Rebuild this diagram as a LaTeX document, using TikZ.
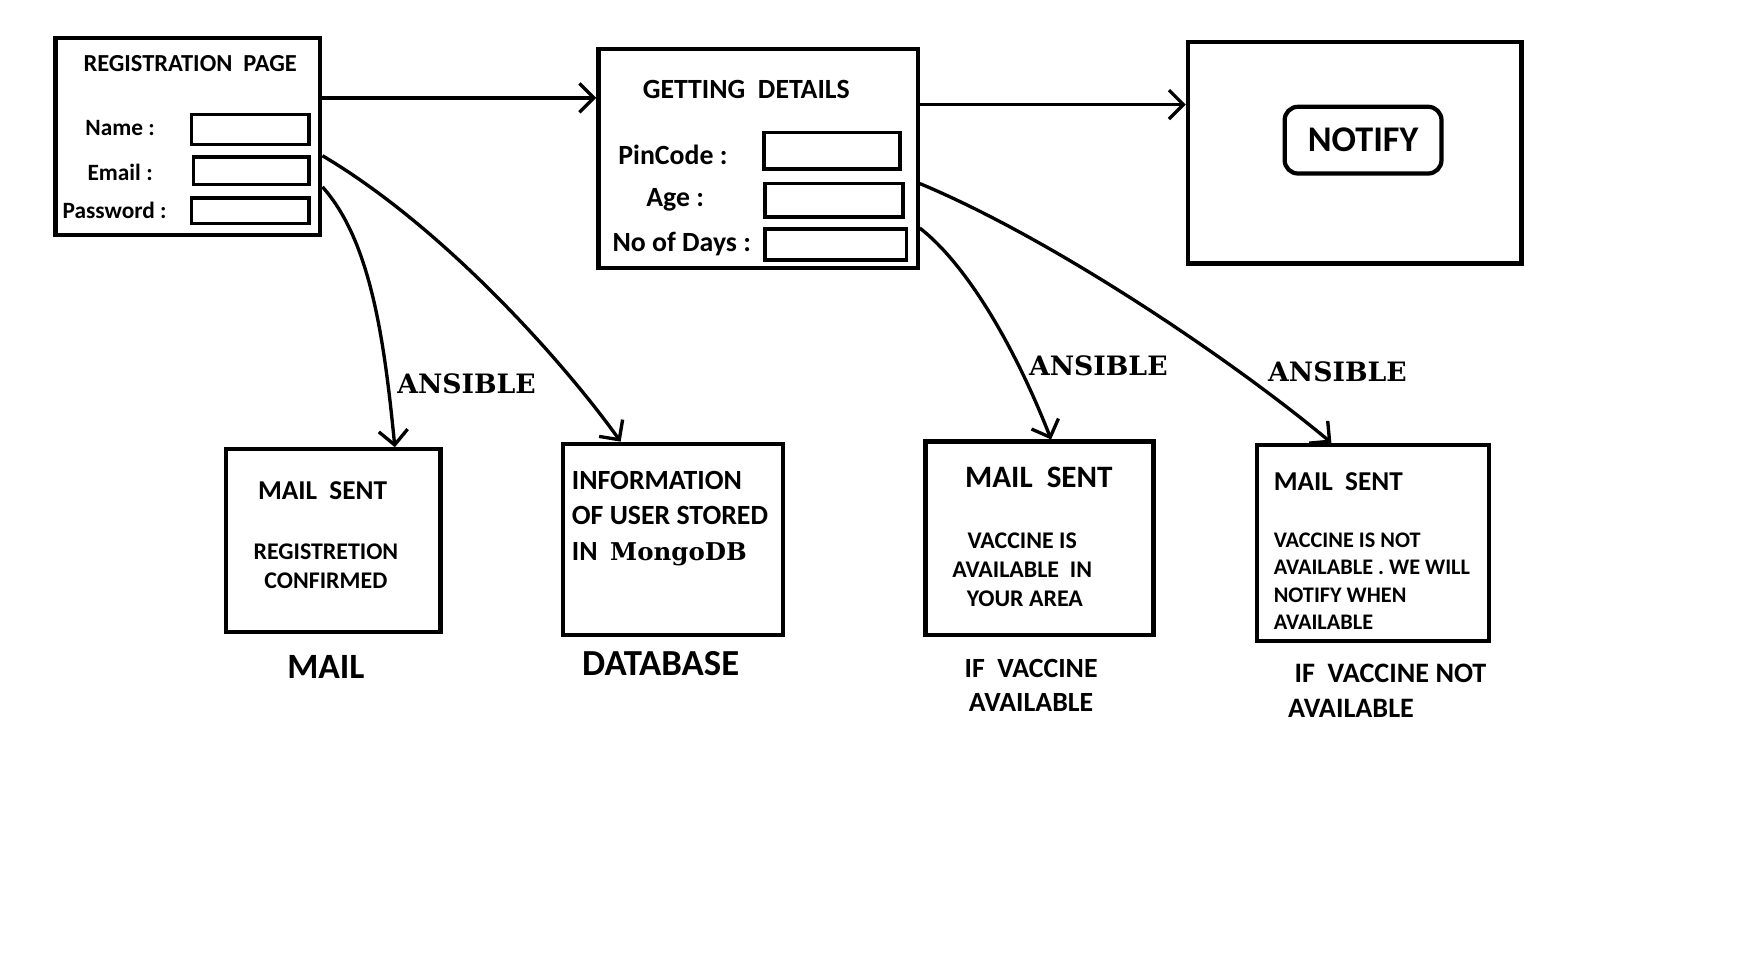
\documentclass[tikz,border=0pt]{standalone}
\usepackage{fontspec}
\setmainfont{Carlito}
\newfontfamily\heavyserif{DejaVu Serif}
\usetikzlibrary{arrows.meta}

\newcommand{\fsz}[2]{\fontsize{#1}{#2}\selectfont\bfseries}

\begin{document}
\begin{tikzpicture}[x=1pt,y=-1pt,
  box/.style={rectangle,draw,line width=3.8pt,inner sep=0pt},
  input/.style={rectangle,draw,line width=3.2pt,inner sep=0pt},
  txt/.style={inner sep=0pt,font=\fsz{22}{26}},
  arr/.style={line width=3pt,-{Straight Barb[length=13pt,width=26pt]}},
  tool/.style={inner sep=0pt,anchor=west,font=\heavyserif\fsz{24}{28}}]

\useasboundingbox (0,0) rectangle (1568,871);

\node[box,minimum width=238pt,minimum height=177pt] (reg) at (169,122.5) {};
\node[txt] (regT) at (171,57) {REGISTRATION\ \ PAGE};
\node[txt,font=\fsz{21}{24}] (nameL) at (108,115) {Name :};
\node[txt,font=\fsz{21}{24}] (mailL) at (108,155) {Email :};
\node[txt,font=\fsz{21}{24}] (passL) at (103,189) {Password :};
\node[input,minimum width=106pt,minimum height=27pt] (nameI) at (225,116.5) {};
\node[input,minimum width=104pt,minimum height=25pt] (mailI) at (226,153.5) {};
\node[input,minimum width=106pt,minimum height=23pt] (passI) at (225,189.5) {};

\node[box,minimum width=287pt,minimum height=197pt] (get) at (681.5,142.5) {};
\node[txt,font=\fsz{25}{28}] (getT) at (671,80) {GETTING\ \ DETAILS};
\node[txt,font=\fsz{25}{28}] (pinL) at (605,139) {PinCode :};
\node[txt,font=\fsz{25}{28}] (ageL) at (607,180) {Age :};
\node[txt,font=\fsz{25}{28}] (dayL) at (613,219) {No of Days :};
\node[input,minimum width=122pt,minimum height=33pt] (pinI) at (748,135.5) {};
\node[input,minimum width=124pt,minimum height=30pt] (ageI) at (750,180) {};
\node[input,minimum width=127pt,minimum height=28pt] (dayI) at (751.5,220) {};

\node[box,minimum width=300pt,minimum height=199pt] (note) at (1218,137.5) {};
\node[box,rounded corners=12pt,minimum width=141pt,minimum height=60pt,font=\fsz{32.5}{36}] (noteB) at (1225.5,126) {NOTIFY};

\node[box,minimum width=193pt,minimum height=164pt] (mail) at (299.5,486) {};
\node[txt,font=\fsz{24.5}{28}] (mailT) at (290,441) {MAIL\ \ SENT};
\node[txt,align=center,font=\fsz{21.5}{26}] (mailM) at (293,509) {REGISTRETION\\CONFIRMED};
\node[txt,font=\fsz{32}{36}] (mailC) at (293,600) {MAIL};

\node[box,minimum width=198pt,minimum height=172pt] (db) at (605,485) {};
\node[txt,anchor=west,align=left,font=\fsz{25}{32}] (dbT) at (514,466)
  {INFORMATION\\OF USER STORED\\IN\ \ {\heavyserif\fsz{22}{32}MongoDB}};
\node[txt,font=\fsz{33}{36}] (dbC) at (594,597) {DATABASE};

\node[box,minimum width=205pt,minimum height=174pt] (avail) at (934.5,484) {};
\node[txt,font=\fsz{28}{32}] (availT) at (934,429) {MAIL\ \ SENT};
\node[txt,align=center,font=\fsz{21.5}{26}] (availM) at (919,512) {VACCINE IS\\AVAILABLE\ \ IN\\\ YOUR AREA};
\node[txt,align=center,font=\fsz{25}{31}] (availC) at (927,616) {IF\ \ VACCINE\\AVAILABLE};

\node[box,minimum width=209pt,minimum height=176pt] (navail) at (1234.5,488) {};
\node[txt,anchor=west,font=\fsz{24.5}{28}] (navailT) at (1145,433) {MAIL\ \ SENT};
\node[txt,anchor=west,align=left,font=\fsz{20}{24.5}] (navailM) at (1145,522.5)
  {VACCINE IS NOT\\AVAILABLE . WE WILL\\NOTIFY WHEN\\AVAILABLE};
\node[txt,anchor=west,align=left,font=\fsz{25.3}{32}] (navailC) at (1158,621) {\ IF\ \ VACCINE NOT\\AVAILABLE};

\node[tool] (ans1) at (357,345) {ANSIBLE};
\node[tool] (ans2) at (925,329) {ANSIBLE};
\node[tool] (ans3) at (1140,334) {ANSIBLE};

\draw[arr] ([yshift=34.5pt]reg.east) -- ([yshift=54.5pt]get.west);
\draw[arr] ([yshift=48.5pt]get.east) -- ([yshift=43.5pt]note.west);
\draw[arr] ([yshift=-45.5pt]reg.east) .. controls +(42,47) and +(-10,-103) .. ([xshift=55.5pt]mail.north);
\draw[arr] ([yshift=-17.5pt]reg.east) .. controls +(110,65) and +(-50,-70) .. ([xshift=-47pt]db.north);
\draw[arr] ([yshift=-62.5pt]get.east) .. controls +(45,35) and +(-30,-77) .. ([xshift=10.5pt]avail.north);
\draw[arr] ([yshift=-22.5pt]get.east) .. controls +(120,50) and +(-90,-75) .. ([xshift=-37.5pt]navail.north);
\end{tikzpicture}
\end{document}
